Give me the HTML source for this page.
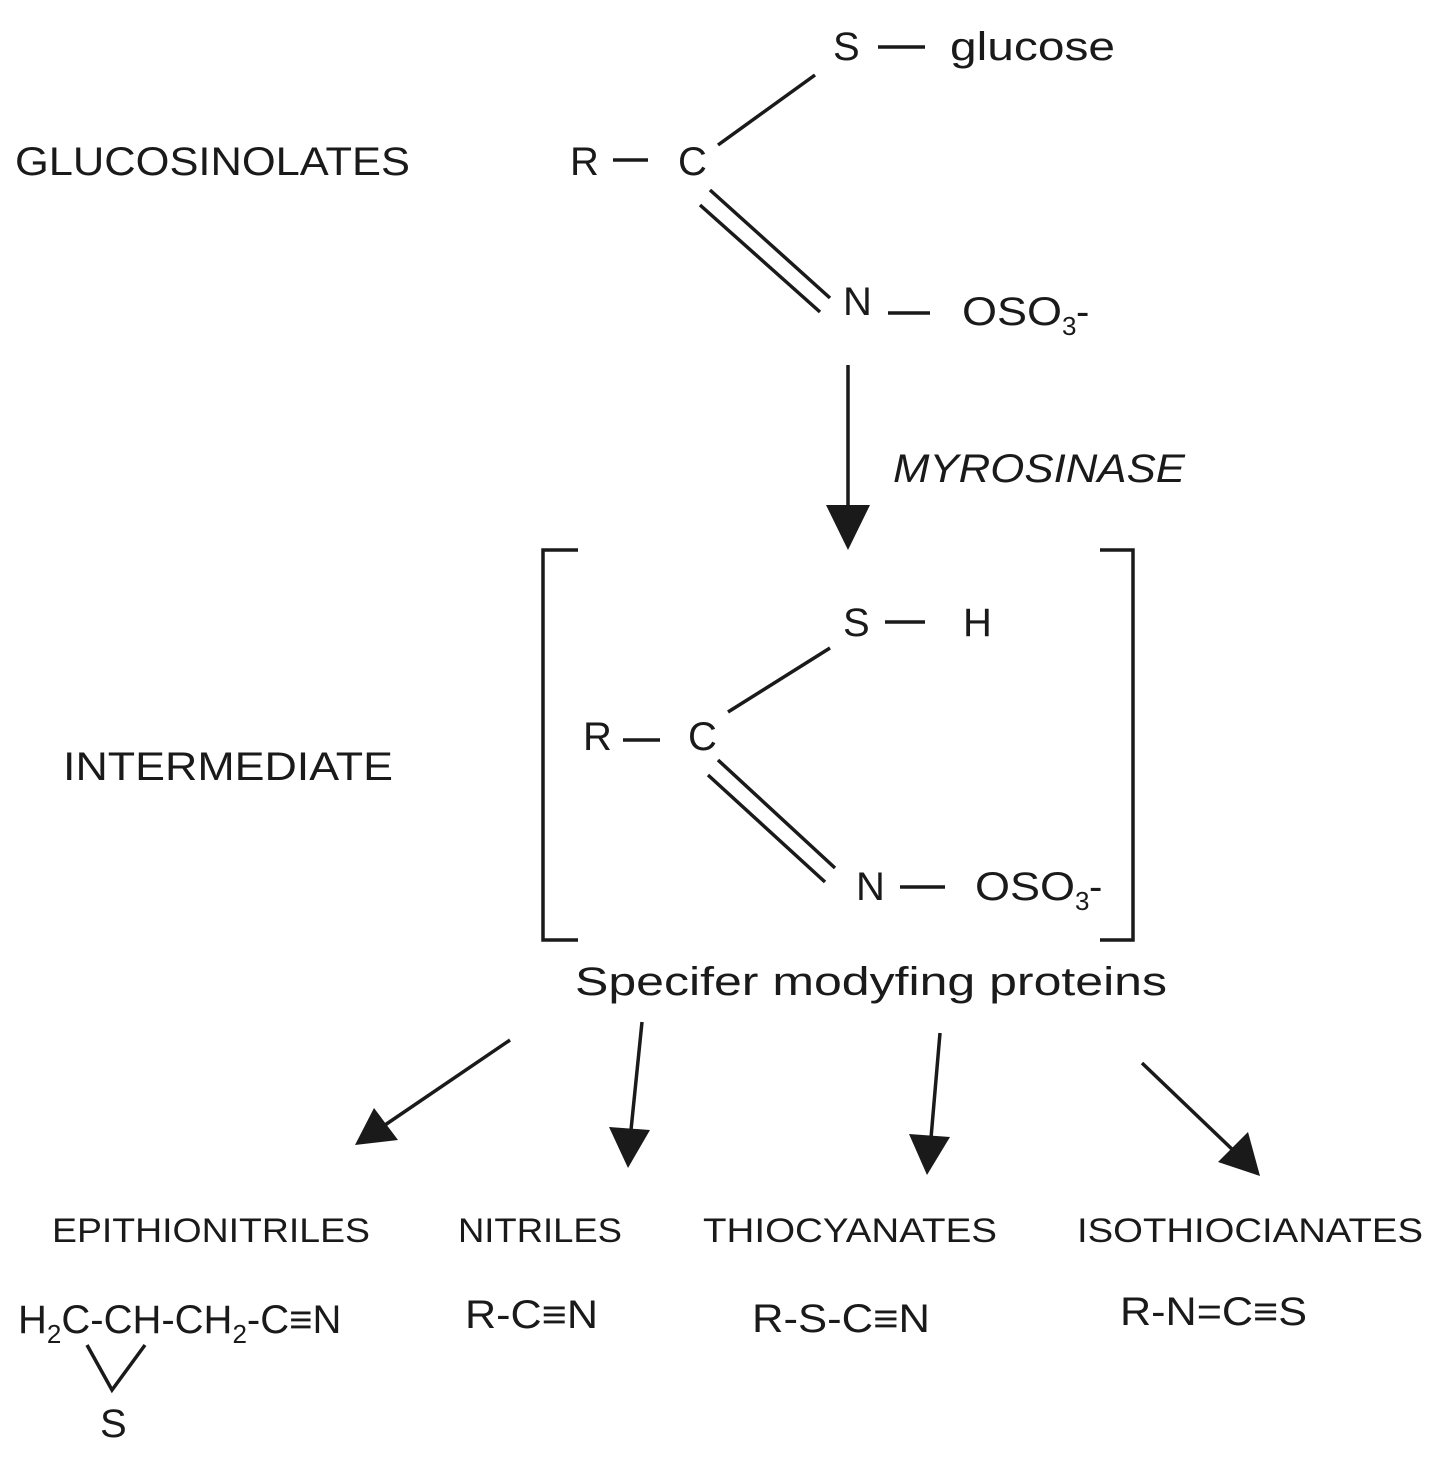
<!DOCTYPE html>
<html><head><meta charset="utf-8"><style>
html,body{margin:0;padding:0;background:#fff}
svg{display:block}
text{font-family:"Liberation Sans",sans-serif;fill:#1a1a1a}
</style></head><body>
<svg width="1441" height="1462" viewBox="0 0 1441 1462" xmlns="http://www.w3.org/2000/svg">
<g stroke="#1a1a1a" stroke-width="3.5" fill="none">
<!-- top molecule -->
<line x1="878" y1="47" x2="925" y2="47"/>
<line x1="613" y1="160" x2="648" y2="160"/>
<line x1="718" y1="145" x2="815" y2="75"/>
<line x1="710" y1="190" x2="830" y2="298"/>
<line x1="700" y1="205" x2="820" y2="312"/>
<line x1="888" y1="313" x2="930" y2="313"/>
<!-- arrow -->
<line x1="848" y1="365" x2="848" y2="515"/>
<!-- brackets -->
<polyline points="578,550 543,550 543,940 578,940"/>
<polyline points="1100,550 1133,550 1133,940 1100,940"/>
<!-- intermediate -->
<line x1="885" y1="622" x2="925" y2="622"/>
<line x1="623" y1="740" x2="660" y2="740"/>
<line x1="728" y1="712" x2="830" y2="648"/>
<line x1="718" y1="760" x2="835" y2="868"/>
<line x1="708" y1="775" x2="825" y2="882"/>
<line x1="900" y1="887" x2="945" y2="887"/>
<!-- product arrows -->
<line x1="510" y1="1040" x2="385" y2="1125"/>
<line x1="642" y1="1022" x2="631" y2="1130"/>
<line x1="940" y1="1033" x2="931" y2="1138"/>
<line x1="1142" y1="1063" x2="1235" y2="1152"/>
<!-- epithio ring -->
<polyline points="87,1345 112,1390 145,1345"/>
</g>
<g fill="#1a1a1a">
<polygon points="826,505 870,505 848,550"/>
<polygon points="355,1145 374,1108 398,1140"/>
<polygon points="628,1168 609,1127 650,1130"/>
<polygon points="927,1175 909,1134 950,1137"/>
<polygon points="1260,1176 1218,1162 1248,1132"/>
</g>
<g font-size="40">
<text x="15" y="175" textLength="395" lengthAdjust="spacingAndGlyphs">GLUCOSINOLATES</text>
<text x="833" y="60">S</text>
<text x="950" y="60" textLength="165" lengthAdjust="spacingAndGlyphs">glucose</text>
<text x="570" y="175">R</text>
<text x="678" y="175">C</text>
<text x="843" y="315">N</text>
<text x="962" y="325" textLength="100" lengthAdjust="spacingAndGlyphs">OSO</text>
<text x="1062" y="335" font-size="26">3</text>
<text x="1076" y="325">-</text>
<text x="893" y="482" font-style="italic" textLength="292" lengthAdjust="spacingAndGlyphs">MYROSINASE</text>
<text x="843" y="636">S</text>
<text x="963" y="636">H</text>
<text x="583" y="750">R</text>
<text x="688" y="750">C</text>
<text x="856" y="900">N</text>
<text x="975" y="900" textLength="100" lengthAdjust="spacingAndGlyphs">OSO</text>
<text x="1075" y="910" font-size="26">3</text>
<text x="1089" y="900">-</text>
<text x="63" y="780" textLength="330" lengthAdjust="spacingAndGlyphs">INTERMEDIATE</text>
<text x="575" y="995" textLength="592" lengthAdjust="spacingAndGlyphs">Specifer modyfing proteins</text>
</g>
<g font-size="34">
<text x="52" y="1242" textLength="318" lengthAdjust="spacingAndGlyphs">EPITHIONITRILES</text>
<text x="458" y="1242" textLength="164" lengthAdjust="spacingAndGlyphs">NITRILES</text>
<text x="703" y="1242" textLength="294" lengthAdjust="spacingAndGlyphs">THIOCYANATES</text>
<text x="1077" y="1242" textLength="346" lengthAdjust="spacingAndGlyphs">ISOTHIOCIANATES</text>
</g>
<g font-size="40">
<text x="18" y="1333">H<tspan font-size="26" dy="10">2</tspan><tspan dy="-10">C-CH-CH</tspan><tspan font-size="26" dy="10">2</tspan><tspan dy="-10">-C≡N</tspan></text>
<text x="465" y="1328" textLength="133" lengthAdjust="spacingAndGlyphs">R-C≡N</text>
<text x="752" y="1332" textLength="178" lengthAdjust="spacingAndGlyphs">R-S-C≡N</text>
<text x="1120" y="1325" textLength="187" lengthAdjust="spacingAndGlyphs">R-N=C≡S</text>
<text x="100" y="1437">S</text>
</g>
</svg>
</body></html>
